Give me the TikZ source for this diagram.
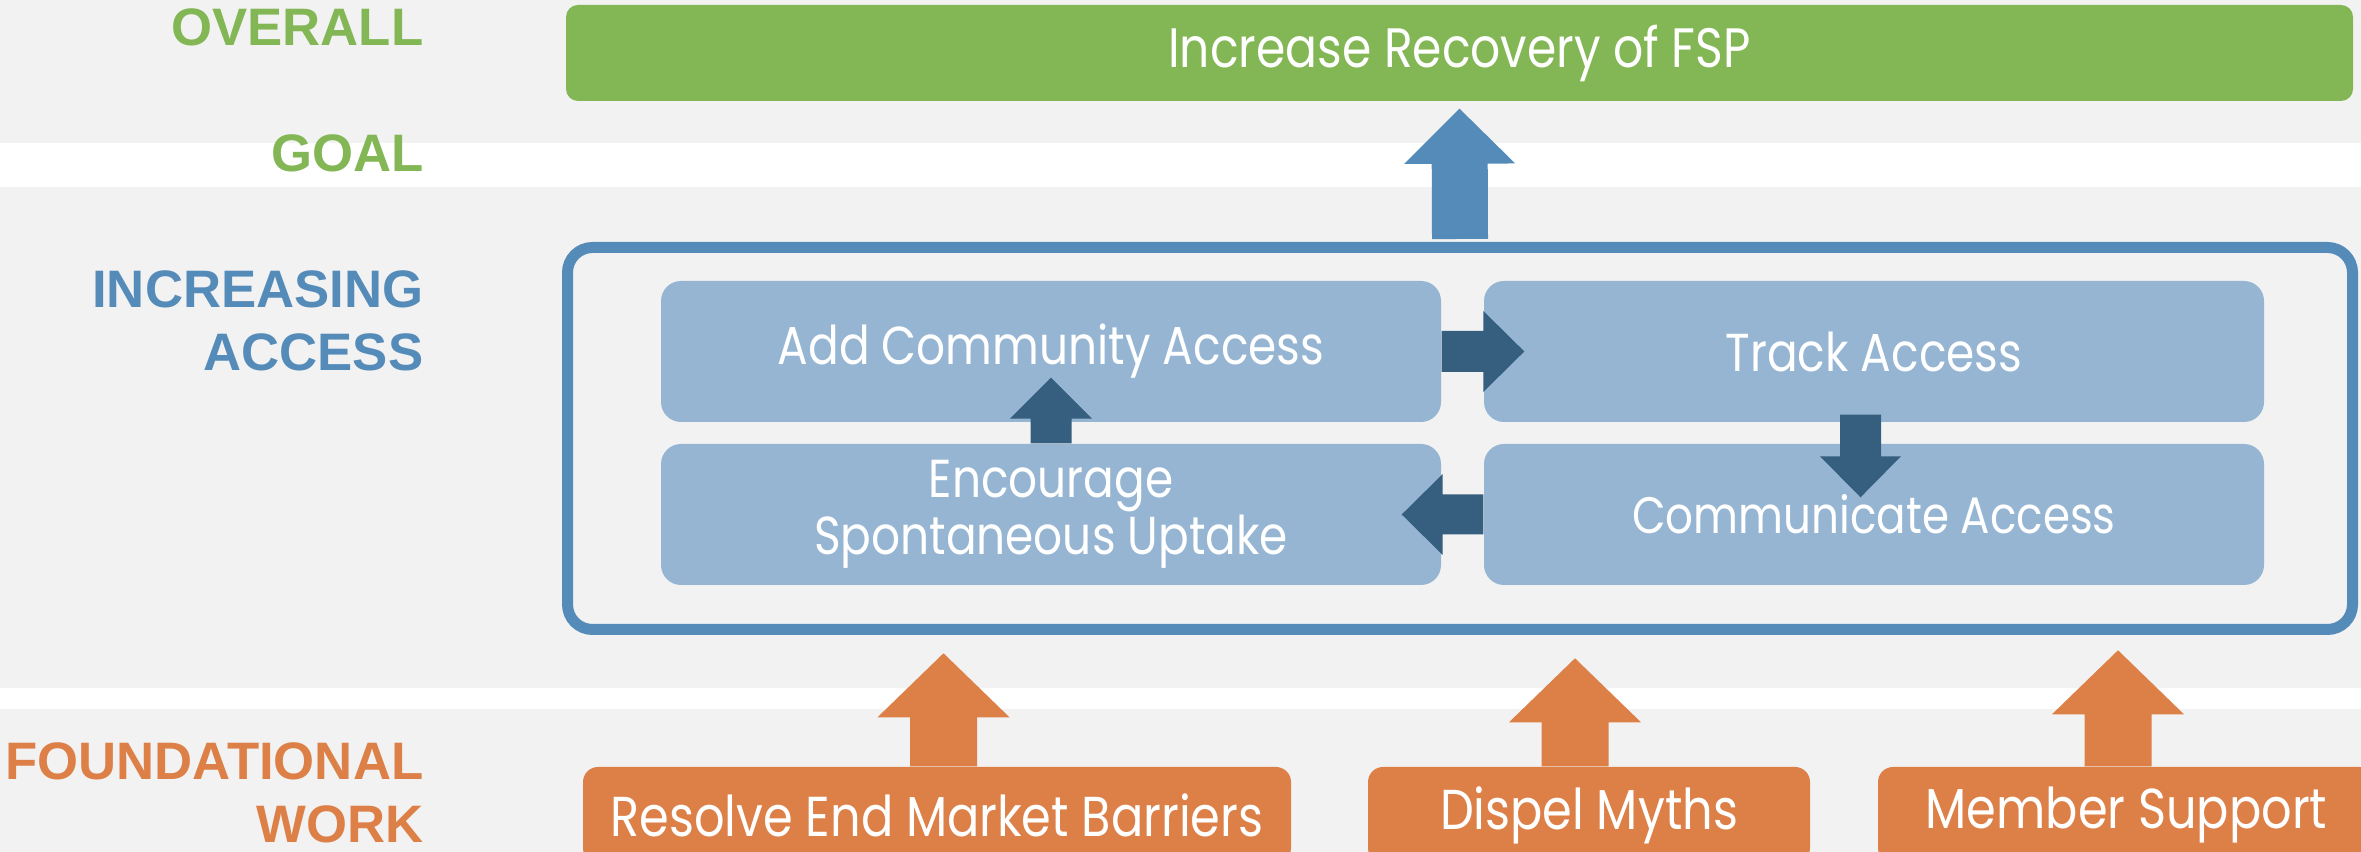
\documentclass[tikz,border=0pt]{standalone}
\usepackage{fontspec}
\setmainfont{Liberation Sans}
\newfontfamily\boxfont{Poppins}[FakeStretch=0.85]
\usetikzlibrary{calc}

\definecolor{BgGrey}{RGB}{242,242,242}
\definecolor{GoalGreen}{RGB}{131,182,85}
\definecolor{AccessBlue}{RGB}{85,139,185}
\definecolor{StepBlue}{RGB}{149,181,211}
\definecolor{StepArrow}{RGB}{54,94,126}
\definecolor{WorkOrange}{RGB}{221,128,72}

\newcommand*{\DrawBlockArrow}[6][]{%
    % #1 = fill colour
    % #2 = foot of the shaft, #3 = tip
    % #4 = shaft half width, #5 = head half width, #6 = head length
    \coordinate (HeadBase) at ($(#3)!#6!(#2)$);
    \fill [#1] ($(#2)!#4!90:(#3)$) -- ($(HeadBase)!#4!90:(#3)$)
        -- ($(HeadBase)!#5!90:(#3)$) -- (#3)
        -- ($(HeadBase)!#5!-90:(#3)$) -- ($(HeadBase)!#4!-90:(#3)$)
        -- ($(#2)!#4!-90:(#3)$) -- cycle;
}

\tikzset{
    sidelabel/.style={anchor=east, inner sep=0pt, align=right,
        font=\bfseries\fontsize{15}{17.9}\selectfont},
    goalbox/.style={fill=GoalGreen, rounded corners=0.12cm,
        minimum width=17.87cm, minimum height=0.96cm, text=white,
        font=\boxfont\fontsize{15.8}{17}\selectfont},
    stepbox/.style={fill=StepBlue, rounded corners=0.2cm,
        minimum width=7.8cm, minimum height=1.41cm, text=white, align=center,
        font=\boxfont\fontsize{15.2}{15.3}\selectfont},
    workbox/.style={fill=WorkOrange, rounded corners=0.15cm,
        minimum height=0.96cm, text=white,
        font=\boxfont\fontsize{16}{17}\selectfont},
}

\begin{document}
\begin{tikzpicture}
    % canvas and the two white bands
    \clip (0,0) rectangle (23.61,8.52);
    \fill [BgGrey] (0,0) rectangle (23.61,8.52);
    \fill [white] (0,6.65) rectangle (23.61,7.09);
    \fill [white] (0,1.43) rectangle (23.61,1.64);

    % labels on the left
    \node [sidelabel, text=GoalGreen] (overall) at (4.24,8.25) {OVERALL};
    \node [sidelabel, text=GoalGreen] (goallabel) at (4.24,6.99) {GOAL};
    \node [sidelabel, text=AccessBlue] (accesslabel) at (4.24,5.315) {INCREASING\\ACCESS};
    \node [sidelabel, text=WorkOrange] (worklabel) at (4.24,0.595) {FOUNDATIONAL\\WORK};

    % goal
    \node [goalbox] (goal) at (14.595,7.99) {Increase Recovery of FSP};

    % increasing access
    \node [draw=AccessBlue, line width=0.11cm, rounded corners=0.25cm,
        minimum width=17.85cm, minimum height=3.82cm] (access) at (14.6,4.135) {};
    \node [stepbox] (add) at (10.51,5.005) {Add Community Access};
    \node [stepbox] (track) at (18.74,5.005) {Track Access};
    \node [stepbox] (encourage) at (10.51,3.375) {Encourage\\Spontaneous Uptake};
    \node [stepbox, font=\boxfont\fontsize{14.6}{15.3}\selectfont] (communicate) at (18.74,3.375) {Communicate Access};

    % foundational work
    \node [workbox, minimum width=7.08cm] (resolve) at (9.37,0.37) {Resolve End Market Barriers};
    \node [workbox, minimum width=4.42cm] (dispel) at (15.89,0.37) {Dispel Myths};
    \node [workbox, minimum width=4.97cm] (member) at (21.265,0.37) {Member Support};

    % block arrows
    \coordinate (goal-foot) at ($(access.north)+(0,0.03)$);
    \coordinate (goal-tip) at ($(goal.south)+(0,-0.07)$);
    \DrawBlockArrow[AccessBlue]{goal-foot}{goal-tip}{0.28cm}{0.555cm}{0.55cm}

    \coordinate (track-tip) at ($(track.west)+(0.41,0)$);
    \DrawBlockArrow[StepArrow]{add.east}{track-tip}{0.205cm}{0.405cm}{0.41cm}
    \coordinate (communicate-foot) at ($(track.south)+(-0.135,0.08)$);
    \coordinate (communicate-tip) at ($(communicate.north)+(-0.135,-0.54)$);
    \DrawBlockArrow[StepArrow]{communicate-foot}{communicate-tip}{0.205cm}{0.405cm}{0.41cm}
    \coordinate (encourage-tip) at ($(encourage.east)+(-0.40,0)$);
    \DrawBlockArrow[StepArrow]{communicate.west}{encourage-tip}{0.2cm}{0.405cm}{0.41cm}
    \coordinate (add-tip) at ($(add.south)+(0,0.45)$);
    \DrawBlockArrow[StepArrow]{encourage.north}{add-tip}{0.205cm}{0.41cm}{0.41cm}

    \foreach \Name/\Shift/\Rise in {resolve/0.065/1.13, dispel/-0.14/1.08, member/-0.085/1.16} {
        \coordinate (\Name-foot) at ($(\Name.north)+(\Shift,0)$);
        \coordinate (\Name-tip) at ($(\Name.north)+(\Shift,\Rise)$);
        \DrawBlockArrow[WorkOrange]{\Name-foot}{\Name-tip}{0.335cm}{0.66cm}{0.64cm}
    }
\end{tikzpicture}
\end{document}
